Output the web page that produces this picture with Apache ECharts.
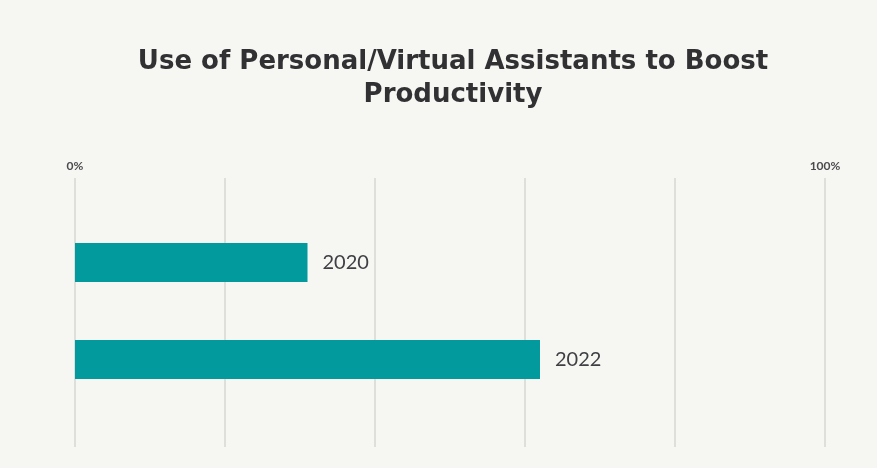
<!DOCTYPE html>
<html>
<head>
<meta charset="utf-8">
<script src="https://cdn.jsdelivr.net/npm/echarts@6/dist/echarts.min.js"></script>
<style>
  html, body { margin: 0; padding: 0; background: #f6f6f2; }
  #chart { width: 877px; height: 468px; }
</style>
</head>
<body>
<div id="chart"></div>
<script>
// Share of respondents using personal/virtual assistants, by survey year
const years = ['2020', '2022'];
const usagePct = [31, 62];
const scaleTicks = [0, 20, 40, 60, 80, 100];
const shownTickLabels = ['0%', '100%'];

const chart = echarts.init(document.getElementById('chart'));

chart.setOption({
  backgroundColor: '#f6f6f2',
  title: {
    text: 'Use of Personal/Virtual Assistants to Boost\nProductivity',
    left: 448,
    textAlign: 'center',
    top: 41,
    textStyle: {
      fontFamily: 'DejaVu Sans',
      fontWeight: 'bold',
      fontSize: 26,
      lineHeight: 33,
      color: '#313134'
    }
  },
  grid: [
    // gridline frame
    { left: 75, right: 52, top: 178, bottom: 21 },
    // bar area
    { left: 75, right: 52, top: 214, bottom: 60 }
  ],
  xAxis: [
    {
      gridIndex: 0,
      type: 'value',
      position: 'top',
      min: scaleTicks[0],
      max: scaleTicks[scaleTicks.length - 1],
      interval: scaleTicks[1] - scaleTicks[0],
      axisLine: { show: false },
      axisTick: { show: false },
      axisLabel: {
        margin: 6,
        fontFamily: 'Lato',
        fontWeight: 'bold',
        fontSize: 12,
        color: '#4a4b4f',
        formatter: v => v === scaleTicks[0] ? shownTickLabels[0]
                      : v === scaleTicks[scaleTicks.length - 1] ? shownTickLabels[1] : ''
      },
      splitLine: { show: true, lineStyle: { color: '#d6d6d3', width: 1.5 } }
    },
    {
      gridIndex: 1,
      type: 'value',
      min: scaleTicks[0],
      max: scaleTicks[scaleTicks.length - 1],
      show: false
    }
  ],
  yAxis: [
    { gridIndex: 0, type: 'category', data: years, show: false },
    {
      gridIndex: 1,
      type: 'category',
      data: years,
      inverse: true,
      show: false
    }
  ],
  series: [{
    type: 'bar',
    xAxisIndex: 1,
    yAxisIndex: 1,
    data: usagePct,
    barWidth: 39,
    itemStyle: { color: '#029a9c' },
    label: {
      show: true,
      position: 'right',
      distance: 15,
      formatter: p => p.name,
      fontFamily: 'Lato',
      fontSize: 20,
      color: '#3f4044'
    },
    silent: true
  }],
  animation: false
});
</script>
</body>
</html>
